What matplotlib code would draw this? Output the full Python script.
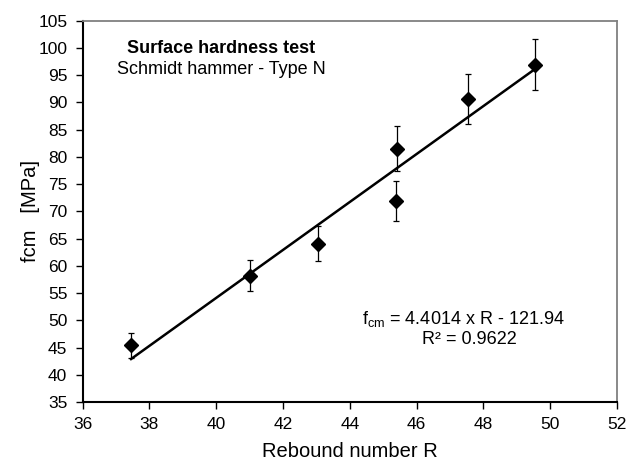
import matplotlib
matplotlib.use('Agg')
import matplotlib.pyplot as plt

plt.rcParams['font.family'] = ['Liberation Sans', 'DejaVu Sans']

# rebound number R vs compressive strength fcm
rebound = [37.45, 41.0, 43.05, 45.37, 45.42, 47.53, 49.56]
fcm = [45.4, 58.2, 64.0, 71.9, 81.4, 90.65, 96.95]
err_up = [2.3, 2.85, 3.3, 3.65, 4.2, 4.55, 4.75]
err_down = [2.3, 2.9, 3.2, 3.6, 4.0, 4.55, 4.75]

# trendline from the chart label
slope = 4.4014
intercept = -121.94
r2 = 0.9622

fig = plt.figure(figsize=(6.26, 4.63), dpi=100)
ax = fig.add_axes([0.132, 0.1317, 0.8536, 0.8236])

x_fit = [min(rebound), max(rebound)]
y_fit = [slope * v + intercept for v in x_fit]
ax.plot(x_fit, y_fit, color='black', lw=1.8, zorder=2)

ax.errorbar(rebound, fcm, yerr=[err_down, err_up], fmt='D', color='black',
            ms=7, ecolor='black', elinewidth=0.9, capsize=2.5, capthick=0.9, zorder=3)

ax.set_xlim(36, 52)
ax.set_ylim(35, 105)
ax.set_xticks(range(36, 53, 2))
ax.set_yticks(range(35, 106, 5))
ax.tick_params(direction='out', length=5, width=1, labelsize=12.5, pad=6, colors='black')

for side in ['left', 'bottom']:
    ax.spines[side].set_color('black')
    ax.spines[side].set_linewidth(1.5)
for side in ['top', 'right']:
    ax.spines[side].set_color('#808080')
    ax.spines[side].set_linewidth(1.3)

ax.set_xlabel('Rebound number R', fontsize=14.5, labelpad=7)
ax.set_ylabel('fcm   [MPa]', fontsize=14.5, labelpad=-1.5)

ax.text(0.259, 0.928, 'Surface hardness test', transform=ax.transAxes,
        ha='center', va='center', fontsize=13, fontweight='bold')
ax.text(0.259, 0.871, 'Schmidt hammer - Type N', transform=ax.transAxes,
        ha='center', va='center', fontsize=13)

ax.text(0.713, 0.217, r'f$_{\mathregular{cm}}$ = %.4f x R - %.2f' % (slope, -intercept),
        transform=ax.transAxes, ha='center', va='center', fontsize=13)
ax.text(0.723, 0.165, 'R² = %.4f' % r2, transform=ax.transAxes,
        ha='center', va='center', fontsize=13)

fig.savefig('out.png', dpi=100)
